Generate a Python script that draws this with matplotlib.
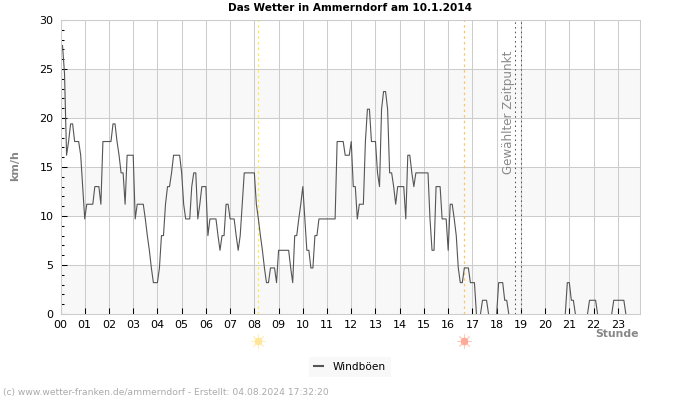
"""Windboeen chart, Ammerndorf 10.1.2014."""

import matplotlib

matplotlib.use("Agg")
import matplotlib.pyplot as plt
import numpy as np

# one row per hour, 5 minute samples
GUSTS = [
    27.4, 27.4, 24.5, 16.2, 17.6, 19.4, 19.4, 17.6, 17.6, 17.6, 16.2, 13.0,
    9.7, 11.2, 11.2, 11.2, 11.2, 13.0, 13.0, 13.0, 11.2, 17.6, 17.6, 17.6,
    17.6, 17.6, 19.4, 19.4, 17.6, 16.2, 14.4, 14.4, 11.2, 16.2, 16.2, 16.2,
    16.2, 9.7, 11.2, 11.2, 11.2, 11.2, 9.7, 8.0, 6.5, 4.7, 3.2, 3.2,
    3.2, 4.7, 8.0, 8.0, 11.2, 13.0, 13.0, 14.4, 16.2, 16.2, 16.2, 16.2,
    14.4, 11.2, 9.7, 9.7, 9.7, 13.0, 14.4, 14.4, 9.7, 11.2, 13.0, 13.0,
    13.0, 8.0, 9.7, 9.7, 9.7, 9.7, 8.0, 6.5, 8.0, 8.0, 11.2, 11.2,
    9.7, 9.7, 9.7, 8.0, 6.5, 8.0, 11.2, 14.4, 14.4, 14.4, 14.4, 14.4,
    14.4, 11.2, 9.7, 8.0, 6.5, 4.7, 3.2, 3.2, 4.7, 4.7, 4.7, 3.2,
    6.5, 6.5, 6.5, 6.5, 6.5, 6.5, 4.7, 3.2, 8.0, 8.0, 9.7, 11.2,
    13.0, 9.7, 6.5, 6.5, 4.7, 4.7, 8.0, 8.0, 9.7, 9.7, 9.7, 9.7,
    9.7, 9.7, 9.7, 9.7, 9.7, 17.6, 17.6, 17.6, 17.6, 16.2, 16.2, 16.2,
    17.6, 13.0, 13.0, 9.7, 11.2, 11.2, 11.2, 17.6, 20.9, 20.9, 17.6, 17.6,
    17.6, 14.4, 13.0, 20.9, 22.7, 22.7, 20.9, 14.4, 14.4, 13.0, 11.2, 13.0,
    13.0, 13.0, 13.0, 9.7, 16.2, 16.2, 14.4, 13.0, 14.4, 14.4, 14.4, 14.4,
    14.4, 14.4, 14.4, 9.7, 6.5, 6.5, 13.0, 13.0, 13.0, 9.7, 9.7, 9.7,
    6.5, 11.2, 11.2, 9.7, 8.0, 4.7, 3.2, 3.2, 4.7, 4.7, 4.7, 3.2,
    3.2, 3.2, 0, 0, 0, 1.4, 1.4, 1.4, 0, 0, 0, 0,
    0, 3.2, 3.2, 3.2, 1.4, 1.4, 0, 0, 0, 0, 0, 0,
    0, 0, 0, 0, 0, 0, 0, 0, 0, 0, 0, 0,
    0, 0, 0, 0, 0, 0, 0, 0, 0, 0, 0, 3.2,
    3.2, 1.4, 1.4, 0, 0, 0, 0, 0, 0, 0, 1.4, 1.4,
    1.4, 1.4, 0, 0, 0, 0, 0, 0, 0, 0, 1.4, 1.4,
    1.4, 1.4, 1.4, 1.4, 0, 0, 0, 0, 0, 0, 0, 0,
]
HOUR_LABELS = [f"{h:02d}" for h in range(24)]
SUNRISE = 8.17
SUNSET = 16.67
SELECTED = [18.76, 19.0]
SELECTED_LABEL = "Gewählter Zeitpunkt"

GRID = "#cccccc"
BAND = "#f8f8f8"
GRAY = "#888888"

plt.rcParams.update({"font.family": "DejaVu Sans", "font.size": 8})

fig = plt.figure(figsize=(7, 4), dpi=100)
ax = fig.add_axes([60.5 / 700, 86 / 400, 579.5 / 700, 294 / 400])

gusts = np.array(GUSTS, dtype=float)
hours = np.arange(len(gusts)) / 12
ax.set_xlim(0, hours[-1])
ax.set_ylim(0, 30)

for lo in (0, 10, 20):
    ax.axhspan(lo, lo + 5, color=BAND, lw=0, zorder=0)
ax.grid(True, color=GRID, lw=0.75, zorder=1)
ax.set_axisbelow(True)

# calm stretches sit under the axis line, so leave those points out of the path
calm = (gusts == 0) & (np.r_[0, gusts[:-1]] == 0) & (np.r_[gusts[1:], 0] == 0)
ax.plot(hours, np.ma.masked_where(calm, gusts), color="#555555", lw=0.8,
        label="Windböen", zorder=3)

ax.axvline(SUNRISE, color="#ffe94d", lw=0.9, ls=(0, (2, 2.5)), zorder=2)
ax.axvline(SUNSET, color="#ffc266", lw=0.9, ls=(0, (2, 2.5)), zorder=2)
for x in SELECTED:
    ax.axvline(x, color="#555555", lw=0.75, ls=(0, (1.5, 3)), zorder=2)
ax.text(SELECTED[0] - 0.25, 26.9, SELECTED_LABEL, rotation=90, color=GRAY,
        fontsize=8.6, ha="center", va="top")

# sun markers below the axis
sun_trans = ax.get_xaxis_transform()
for x, face, ray in ((SUNRISE, "#ffe699", "#ffeebb"), (SUNSET, "#ffaa99", "#ffccbb")):
    ax.plot([x], [-0.092], marker=(8, 2, 0), ms=10, mew=0.7, color=ray,
            transform=sun_trans, clip_on=False, zorder=4)
    ax.plot([x], [-0.092], marker="o", ms=5.5, mew=0, color=face,
            transform=sun_trans, clip_on=False, zorder=5)

ax.set_xticks(np.arange(24), HOUR_LABELS)
ax.set_yticks(np.arange(0, 31, 5))
ax.set_yticks(np.arange(0, 31), minor=True)
ax.tick_params(axis="x", direction="in", length=4, width=0.75, color="black",
               pad=4, labelsize=8)
ax.tick_params(axis="y", which="major", direction="in", length=4, width=0.75,
               color="black", pad=5, labelsize=8)
ax.tick_params(axis="y", which="minor", direction="in", length=2.5, width=0.75, color="black")

for spine in ax.spines.values():
    spine.set_color(GRID)
    spine.set_linewidth(0.75)
    spine.set_zorder(6)

fig.text(350 / 700, 1 - 8 / 400, "Das Wetter in Ammerndorf am 10.1.2014",
         ha="center", va="center", fontsize=7.6, fontweight="bold")
fig.text(15 / 700, 1 - 166 / 400, "km/h", rotation=90, ha="center", va="center",
         color=GRAY, fontsize=8, fontweight="bold")
fig.text(639 / 700, 1 - 334 / 400, "Stunde", ha="right", va="center",
         color=GRAY, fontsize=7.8, fontweight="bold")
fig.text(3 / 700, 1 - 393 / 400, "(c) www.wetter-franken.de/ammerndorf - Erstellt: 04.08.2024 17:32:20",
         ha="left", va="center", color="#aaaaaa", fontsize=6.6)

leg = ax.legend(loc="center", bbox_to_anchor=(350 / 700, 1 - 367 / 400),
                bbox_transform=fig.transFigure, facecolor=BAND, edgecolor="none",
                framealpha=1, fancybox=False, handlelength=0.9, handletextpad=0.9,
                borderpad=0.5, fontsize=7.6)
leg.get_lines()[0].set_linewidth(1.5)

fig.savefig("out.png", dpi=100)
